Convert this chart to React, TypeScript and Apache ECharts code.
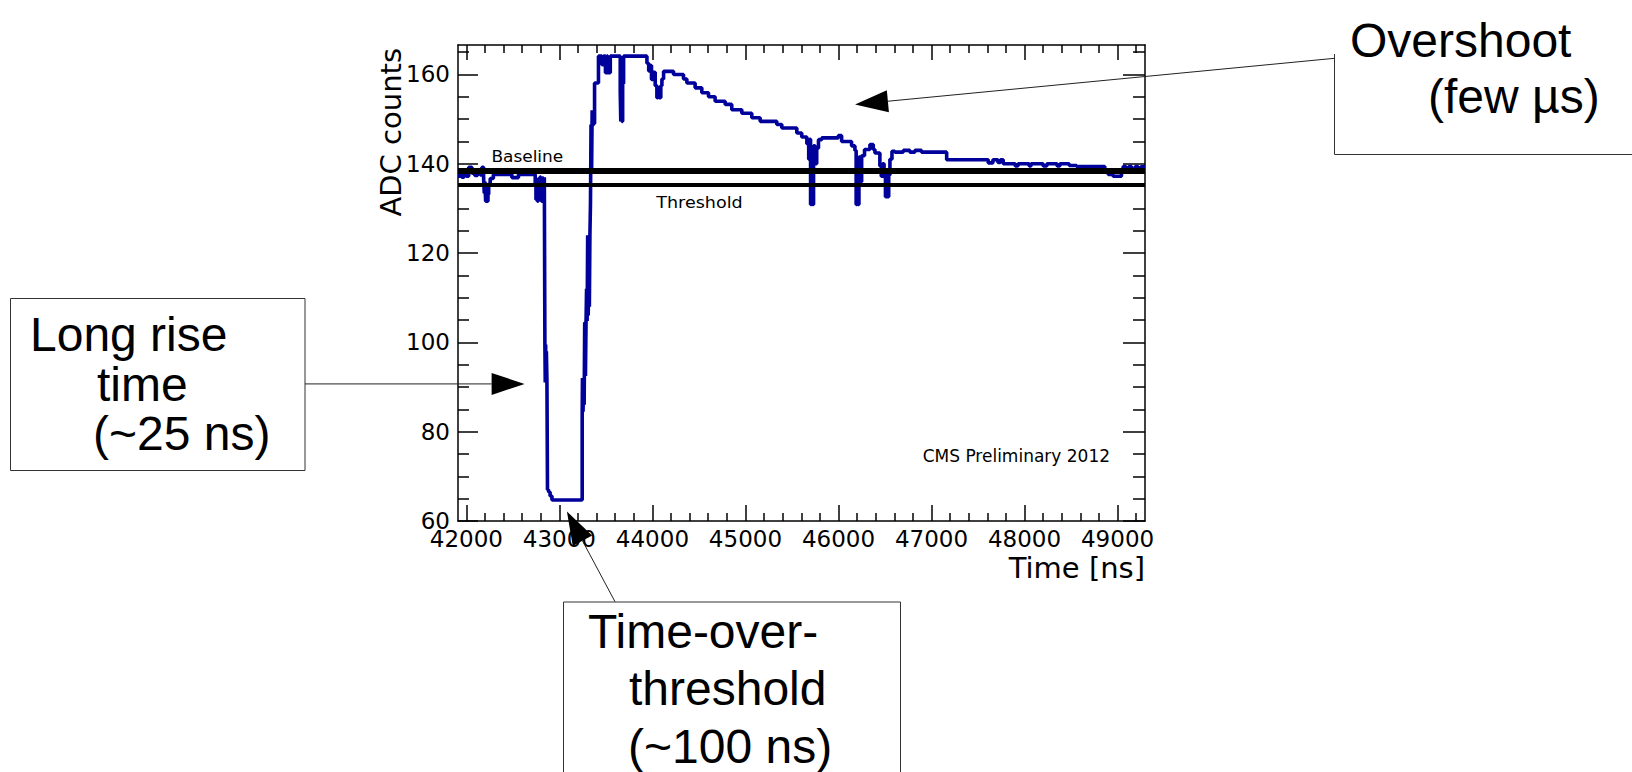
import { useEffect, useRef } from "react";
import * as echarts from "echarts";

const PAGE_W = 1632;
const PAGE_H = 772;

// ---- axis ranges and tick labels ----
const xRange = [41910, 49295];
const yRange = [60, 166.6];
const xMajorTicks = [42000, 43000, 44000, 45000, 46000, 47000, 48000, 49000];
const yMajorTicks = [60, 80, 100, 120, 140, 160];
const xMinorStep = 200;
const yMinorStep = 5;

// ---- reference levels ----
const baselineADC = 138.4;
const thresholdADC = 135.2;

// ---- waveform samples [time ns, ADC counts] ----
const baselineRegion: [number, number][] = [
  [41910, 137.2], [41930, 137.9], [41950, 137.0], [41975, 137.7], [42000, 137.2],
  [42025, 139.2], [42060, 137.9], [42090, 137.4], [42120, 137.9], [42150, 137.5],
  [42167, 139.2], [42185, 137.0], [42192, 133.5], [42200, 136.0], [42207, 131.6],
  [42215, 134.0], [42222, 131.6], [42232, 133.2], [42240, 135.5], [42256, 136.7],
  [42290, 137.6], [42489, 136.9], [42560, 137.6], [42740, 135.5], [42748, 132.0],
  [42756, 136.5], [42764, 131.6], [42772, 135.0], [42780, 132.5], [42790, 137.0],
  [42800, 134.0], [42808, 131.6], [42818, 136.8], [42828, 133.0], [42838, 137.0],
];
const pulseFall: [number, number][] = [
  [42844, 99.8], [42848, 91.0], [42852, 99.5], [42856, 91.0], [42860, 98.0],
  [42866, 91.5], [42872, 67.0], [42884, 66.5], [42900, 65.6], [42920, 64.7],
];
const pulseRise: [number, number][] = [
  [43245, 84.0], [43248, 92.0], [43254, 84.5], [43260, 92.0], [43266, 86.0],
  [43272, 104.4], [43280, 92.5], [43286, 104.0], [43292, 112.0], [43298, 104.8],
  [43304, 124.0], [43310, 106.0], [43316, 124.0], [43322, 108.0], [43328, 124.0],
  [43334, 131.0], [43340, 148.8], [43346, 138.0], [43352, 152.0], [43358, 148.5],
  [43364, 152.0], [43370, 149.0], [43378, 158.1],
];
const overshootPeak: [number, number][] = [
  [43420, 164.1], [43457, 162.2], [43475, 164.1], [43495, 160.4], [43510, 164.1],
  [43520, 160.4], [43547, 164.1], [43654, 156.0], [43660, 149.5], [43666, 162.0],
  [43672, 149.5], [43680, 158.0], [43690, 164.1], [43941, 162.5], [43960, 160.8],
  [43975, 162.0], [43990, 158.9], [44010, 160.5], [44030, 157.5], [44048, 154.8],
  [44060, 157.0], [44075, 154.8], [44090, 157.5], [44102, 159.0], [44120, 160.7],
];
const overshootDecay: [number, number][] = [
  [44227, 160.0], [44334, 159.0], [44370, 158.1], [44459, 157.0], [44531, 155.9],
  [44603, 155.0], [44674, 154.0], [44782, 153.3], [44853, 152.1], [44961, 151.3],
  [45068, 150.3], [45158, 149.5], [45337, 148.8], [45391, 148.0], [45552, 146.9],
  [45605, 146.0], [45660, 144.5], [45680, 141.0], [45690, 145.5], [45700, 130.9],
  [45712, 140.0], [45722, 130.9], [45732, 144.0], [45749, 140.0], [45766, 143.5],
  [45785, 145.4], [45820, 145.8], [45998, 146.3], [46034, 145.0], [46141, 144.0],
  [46177, 143.0], [46190, 130.9], [46200, 141.0], [46210, 130.9], [46220, 141.5],
  [46232, 136.0], [46249, 141.8], [46280, 143.2], [46338, 144.3], [46374, 143.2],
  [46392, 142.4], [46445, 139.5], [46460, 137.2], [46475, 140.0], [46490, 137.2],
  [46505, 132.6], [46515, 138.0], [46525, 132.6], [46540, 137.5], [46553, 141.0],
  [46575, 142.8], [46606, 142.6], [46696, 143.0], [46768, 142.6], [46821, 143.0],
  [46893, 142.6],
];
const tailRegion: [number, number][] = [
  [47163, 140.9], [47610, 140.2], [47660, 140.9], [47714, 140.3], [47740, 140.9],
  [47771, 140.0], [47900, 139.5], [47930, 140.0], [48050, 139.5], [48070, 140.0],
  [48200, 139.5], [48240, 140.0], [48350, 139.5], [48380, 140.0], [48480, 139.6],
  [48559, 139.4], [48863, 138.2], [48900, 137.6], [48952, 137.2], [49042, 138.2],
  [49060, 139.4], [49090, 138.5], [49120, 139.4], [49150, 138.6], [49190, 139.4],
  [49220, 138.5], [49250, 139.3], [49295, 139.3],
];

const waveform = [
  ...baselineRegion, ...pulseFall, ...pulseRise,
  ...overshootPeak, ...overshootDecay, ...tailRegion,
];

function minorTicks(lo: number, hi: number, step: number, majorStep: number) {
  const out: number[] = [];
  const start = Math.ceil(lo / step) * step;
  for (let v = start; v <= hi + 1e-9; v += step) {
    if (Math.abs(v / majorStep - Math.round(v / majorStep)) > 1e-6) out.push(v);
  }
  return out;
}
const xMinorTicks = minorTicks(xRange[0], xRange[1], xMinorStep, 1000);
const yMinorTicks = minorTicks(yRange[0], yRange[1], yMinorStep, 20);

const FRAME = "#000";
const TICK_FONT = "DejaVu Sans";
const BOX_FONT = "Liberation Sans";

function xAxisDef(position: "bottom" | "top", ticks: number[], len: number, showLine: boolean, showLabel: boolean) {
  return {
    type: "value",
    gridIndex: 0,
    position,
    min: xRange[0],
    max: xRange[1],
    axisLine: { show: showLine, onZero: false, lineStyle: { color: FRAME, width: 1.5 } },
    axisTick: { show: true, inside: true, length: len, customValues: ticks, lineStyle: { color: FRAME, width: 1.5 } },
    axisLabel: showLabel
      ? {
          show: true,
          customValues: xMajorTicks,
          formatter: (v: number) => String(v),
          fontFamily: TICK_FONT,
          fontSize: 23,
          color: "#000",
          margin: 6,
        }
      : { show: false },
    splitLine: { show: false },
  };
}
function yAxisDef(position: "left" | "right", ticks: number[], len: number, showLine: boolean, showLabel: boolean) {
  return {
    type: "value",
    gridIndex: 0,
    position,
    min: yRange[0],
    max: yRange[1],
    axisLine: { show: showLine, onZero: false, lineStyle: { color: FRAME, width: 1.5 } },
    axisTick: { show: true, inside: true, length: len, customValues: ticks, lineStyle: { color: FRAME, width: 1.5 } },
    axisLabel: showLabel
      ? {
          show: true,
          customValues: yMajorTicks,
          formatter: (v: number) => String(v),
          fontFamily: TICK_FONT,
          fontSize: 23,
          color: "#000",
          margin: 8,
        }
      : { show: false },
    splitLine: { show: false },
  };
}

function textEl(text: string, x: number, baseline: number, fontSize: number, family: string, extra: any = {}) {
  return {
    type: "text",
    x,
    y: baseline - 0.346 * fontSize,
    z: 10,
    ...extra,
    style: {
      text,
      x: 0,
      y: 0,
      font: `${fontSize}px "${family}"`,
      fill: "#000",
      align: extra.align || "left",
      textAlign: extra.align || "left",
      verticalAlign: "middle",
      textVerticalAlign: "middle",
    },
  };
}

function arrowEls(tail: number[], tip: number[]) {
  const dx = tip[0] - tail[0];
  const dy = tip[1] - tail[1];
  const len = Math.hypot(dx, dy);
  const ux = dx / len;
  const uy = dy / len;
  const L = 33;
  const w = 11;
  const bx = tip[0] - ux * L;
  const by = tip[1] - uy * L;
  const nx = -uy;
  const ny = ux;
  return [
    { type: "line", z: 10, shape: { x1: tail[0], y1: tail[1], x2: bx, y2: by }, style: { stroke: "#222", lineWidth: 1 } },
    {
      type: "polygon",
      z: 10,
      shape: { points: [[tip[0], tip[1]], [bx + nx * w, by + ny * w], [bx - nx * w, by - ny * w]] },
      style: { fill: "#000" },
    },
  ];
}

export default function App() {
  const ref = useRef<HTMLDivElement>(null);
  useEffect(() => {
    const chart = echarts.init(ref.current!, null, { renderer: "svg" });
    const option: any = {
      animation: false,
      backgroundColor: "#fff",
      grid: { left: 458, right: PAGE_W - 1145, top: 45, bottom: PAGE_H - 521, containLabel: false },
      xAxis: [
        xAxisDef("bottom", xMajorTicks, 16, true, true),
        xAxisDef("bottom", xMinorTicks, 8, false, false),
        xAxisDef("top", xMajorTicks, 15, true, false),
        xAxisDef("top", xMinorTicks, 8, false, false),
      ],
      yAxis: [
        yAxisDef("left", yMajorTicks, 20, true, true),
        yAxisDef("left", yMinorTicks, 11, false, false),
        yAxisDef("right", yMajorTicks, 22, true, false),
        yAxisDef("right", yMinorTicks, 12, false, false),
      ],
      series: [
        {
          type: "line",
          xAxisIndex: 0,
          yAxisIndex: 0,
          step: "end",
          showSymbol: false,
          clip: true,
          data: waveform,
          lineStyle: { color: "#00009a", width: 3.6 },
          markLine: {
            silent: true,
            symbol: ["none", "none"],
            label: { show: false },
            data: [
              { yAxis: baselineADC, lineStyle: { color: "#000", width: 6, type: "solid" } },
              { yAxis: thresholdADC, lineStyle: { color: "#000", width: 4, type: "solid" } },
            ],
          },
        },
      ],
    };
    chart.setOption(option);

    const toPx = (x: number, y: number) =>
      chart.convertToPixel({ xAxisIndex: 0, yAxisIndex: 0 }, [x, y]) as number[];

    const baseLbl = toPx(42269, 140.3);
    const thrLbl = toPx(44041, 130.1);
    const cmsLbl = toPx(46905, 73.2);
    const riseTip = toPx(42626, 90.7);
    const overTip = toPx(46178, 153.3);
    const totTip = toPx(43081, 62.1);

    const graphic: any[] = [
      // in-plot labels
      textEl("Baseline", baseLbl[0], baseLbl[1], 15, TICK_FONT, { scaleX: 1.13 }),
      textEl("Threshold", thrLbl[0], thrLbl[1], 15, TICK_FONT, { scaleX: 1.17 }),
      textEl("CMS Preliminary 2012", cmsLbl[0], cmsLbl[1], 17, TICK_FONT),
      // axis titles
      {
        type: "text",
        x: 390.5,
        y: 48,
        rotation: Math.PI / 2,
        z: 10,
        style: {
          text: "ADC counts",
          font: `29px "${TICK_FONT}"`,
          fill: "#000",
          align: "right",
          textAlign: "right",
          verticalAlign: "middle",
          textVerticalAlign: "middle",
        },
      },
      textEl("Time [ns]", 1145, 578, 29, TICK_FONT, { align: "right" }),

      // Long rise time box
      { type: "rect", z: 5, shape: { x: 10.5, y: 298.5, width: 294.5, height: 172 }, style: { fill: "#fff", stroke: "#333", lineWidth: 1 } },
      textEl("Long rise", 30, 351, 48, BOX_FONT),
      textEl("time", 97, 401, 48, BOX_FONT),
      textEl("(~25 ns)", 93, 450, 48, BOX_FONT),
      ...arrowEls([305, riseTip[1]], riseTip),

      // Overshoot box
      { type: "polyline", z: 5, shape: { points: [[1334.5, 54], [1334.5, 154.5], [1640, 154.5]] }, style: { fill: null, stroke: "#333", lineWidth: 1 } },
      textEl("Overshoot", 1350, 57, 48, BOX_FONT),
      textEl("(few µs)", 1428, 113, 48, BOX_FONT),
      ...arrowEls([1334.5, 58.3], overTip),

      // Time-over-threshold box
      { type: "rect", z: 5, shape: { x: 563.5, y: 602, width: 337, height: 220 }, style: { fill: "#fff", stroke: "#333", lineWidth: 1 } },
      textEl("Time-over-", 588, 648, 48, BOX_FONT),
      textEl("threshold", 629, 705, 48, BOX_FONT),
      textEl("(~100 ns)", 628, 763, 48, BOX_FONT),
      ...arrowEls([615, 601.7], totTip),
    ];
    chart.setOption({ graphic });

    return () => chart.dispose();
  }, []);

  return (
    <div
      ref={ref}
      style={{ position: "absolute", left: 0, top: 0, width: PAGE_W, height: PAGE_H, background: "#fff" }}
    />
  );
}
